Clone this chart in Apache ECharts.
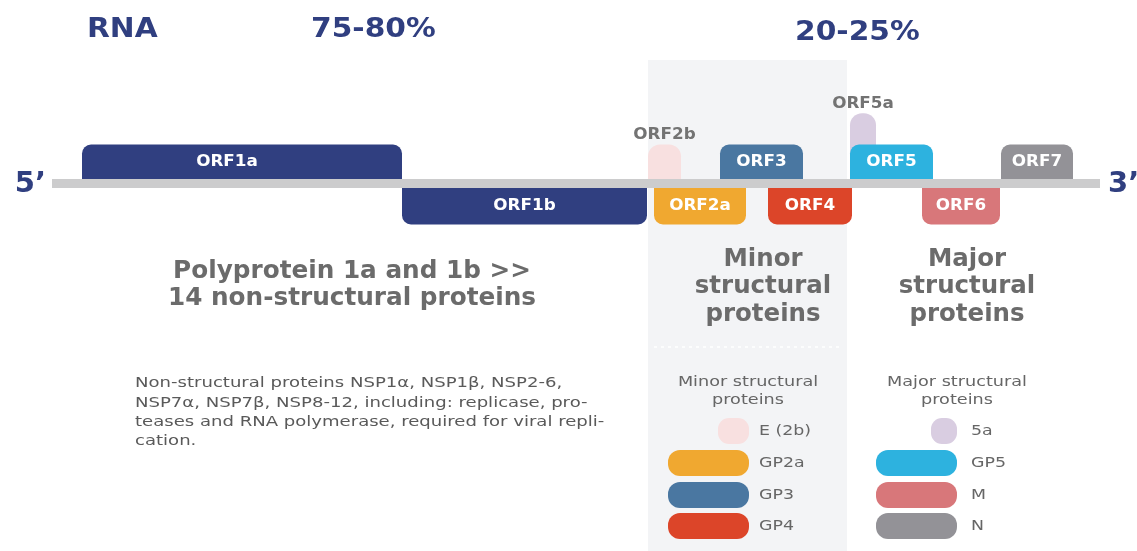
<!DOCTYPE html>
<html><head><meta charset="utf-8">
<script src="https://cdn.jsdelivr.net/npm/echarts@6/dist/echarts.min.js"></script>
<style>html,body{margin:0;padding:0;background:#fff}#c{width:1137px;height:551px}</style>
</head><body><div id="c"></div>
<script>
// ---- data (genome position units, 0 = 5' end, 1048 = 3' end) ----
const genomeLength = 1048;
const orfNames = ['ORF5a','ORF1a','ORF1b','ORF2b','ORF2a','ORF3','ORF4','ORF5','ORF6','ORF7'];
const orfStart = [798, 30, 350, 596, 602, 668, 716, 798, 870, 949];
const orfEnd   = [824, 350, 595, 629, 694, 751, 800, 881, 948, 1021];
const orfBase  = [0, 0, 0, 0, 0, 0, 0, 0, 0, 0];
const orfTop   = [1.8, 1, -1.05, 1, -1.05, 1, -1.05, 1, -1.05, 1];
const labelOutside = ['ORF5a', 'ORF2b'];
const structuralRegion = [596, 795];

const minorLegend = ['E (2b)', 'GP2a', 'GP3', 'GP4'];
const majorLegend = ['5a', 'GP5', 'M', 'N'];

// ---- styles ----
const NAVY = '#303f80';
const orfColors = {
  ORF1a: NAVY, ORF1b: NAVY, ORF2b: '#f8e0e0', ORF2a: '#f0a830', ORF3: '#4a77a1',
  ORF4: '#dc4529', ORF5a: '#d9cde1', ORF5: '#2db2df', ORF6: '#d8777a', ORF7: '#939297'
};
const labelShift = {ORF1a: -15};
const minorColors = ['#f8e0e0', '#f0a830', '#4a77a1', '#dc4529'];
const majorColors = ['#d9cde1', '#2db2df', '#d8777a', '#939297'];
const FONT = 'DejaVu Sans';
const LINE_HALF = 4.5;

const orfData = orfNames.map((n, i) => [orfStart[i], orfEnd[i], orfBase[i], orfTop[i], i]);

const chart = echarts.init(document.getElementById('c'), null, {renderer: 'canvas'});

function renderOrf(params, api) {
  const i = api.value(4);
  const name = orfNames[i];
  const p0 = api.coord([api.value(0), api.value(2)]);
  const p1 = api.coord([api.value(1), api.value(3)]);
  const x = Math.min(p0[0], p1[0]), w = Math.abs(p1[0] - p0[0]);
  const y = Math.min(p0[1], p1[1]), h = Math.abs(p1[1] - p0[1]);
  const up = api.value(3) > 0;
  let r = name === 'ORF5a' || name === 'ORF2b' ? Math.min(w / 2, 12) : 9;
  const radius = up ? [r, r, 0, 0] : [0, 0, r, r];
  const children = [{
    type: 'rect', shape: {x, y, width: w, height: h, r: radius},
    style: {fill: orfColors[name]}
  }];
  const outside = labelOutside.indexOf(name) >= 0;
  let ty;
  if (outside) ty = y - 9.5;
  else if (up) ty = (y + p0[1] - LINE_HALF) / 2;
  else ty = (p0[1] + LINE_HALF + y + h) / 2;
  children.push({
    type: 'text', z2: 10, x: x + w / 2 + (labelShift[name] || 0), y: ty, scaleX: 1.12,
    style: {
      x: 0, y: 0, text: name, textAlign: 'center', textVerticalAlign: 'middle',
      fill: outside ? '#737373' : '#ffffff', font: 'bold 15px "' + FONT + '"'
    }
  });
  return {type: 'group', children};
}

function renderBackbone(params, api) {
  const a = api.coord([api.value(0), 0]);
  const b = api.coord([api.value(1), 0]);
  return {type: 'group', children: [
    {type: 'rect', shape: {x: a[0], y: a[1] - LINE_HALF, width: b[0] - a[0], height: LINE_HALF * 2},
     style: {fill: '#cccccd'}},
    {type: 'text', style: {x: a[0] - 6, y: a[1] + 1, text: '5\u2019', textAlign: 'right', textVerticalAlign: 'middle',
      fill: NAVY, font: 'bold 29px "' + FONT + '"'}},
    {type: 'text', style: {x: b[0] + 8, y: a[1] + 1, text: '3\u2019', textAlign: 'left', textVerticalAlign: 'middle',
      fill: NAVY, font: 'bold 29px "' + FONT + '"'}}
  ]};
}

function renderRegion(params, api) {
  const a = api.coord([api.value(0), 0]);
  const b = api.coord([api.value(1), 0]);
  return {type: 'group', children: [
    {type: 'rect', shape: {x: a[0], y: 60, width: b[0] - a[0], height: 551 - 60}, style: {fill: '#f3f4f6'}},
    {type: 'line', shape: {x1: a[0] + 6, y1: 347, x2: b[0] - 6, y2: 347},
     style: {stroke: '#ffffff', lineWidth: 1.5, lineDash: [3, 4]}}
  ]};
}

const graphics = [];
function txt(x, y, text, opts, sx) {
  graphics.push({type: 'text', x, y, z: 100, scaleX: sx || 1, style: Object.assign({
    text, fill: '#6b6b6b', font: '14px "' + FONT + '"', textVerticalAlign: 'top'
  }, opts || {})});
}
txt(87, 16, 'RNA', {fill: NAVY, font: 'bold 27px "' + FONT + '"'}, 1.1);
txt(311, 16, '75-80%', {fill: NAVY, font: 'bold 27px "' + FONT + '"'}, 1.1);
txt(795, 19, '20-25%', {fill: NAVY, font: 'bold 27px "' + FONT + '"'}, 1.1);
txt(352, 258, 'Polyprotein 1a and 1b >>\n14 non-structural proteins',
  {textAlign: 'center', font: 'bold 24px "' + FONT + '"', lineHeight: 27, fill: '#6b6b6b'}, 1.03);
txt(763, 246, 'Minor\nstructural\nproteins',
  {textAlign: 'center', font: 'bold 24px "' + FONT + '"', lineHeight: 27.5, fill: '#6b6b6b'}, 1.02);
txt(967, 246, 'Major\nstructural\nproteins',
  {textAlign: 'center', font: 'bold 24px "' + FONT + '"', lineHeight: 27.5, fill: '#6b6b6b'}, 1.02);
txt(135, 374, 'Non-structural proteins NSP1\u03b1, NSP1\u03b2, NSP2-6,\nNSP7\u03b1, NSP7\u03b2, NSP8-12, including: replicase, pro-\nteases and RNA polymerase, required for viral repli-\ncation.',
  {font: '14px "' + FONT + '"', lineHeight: 19.3, fill: '#5a5a5a'}, 1.29);
txt(748, 373, 'Minor structural\nproteins', {textAlign: 'center', font: '14px "' + FONT + '"', lineHeight: 18, fill: '#666'}, 1.26);
txt(957, 373, 'Major structural\nproteins', {textAlign: 'center', font: '14px "' + FONT + '"', lineHeight: 18, fill: '#666'}, 1.26);

const legendRows = [418, 450, 482, 513];
function legendCol(names, colors, right, textX) {
  names.forEach((n, i) => {
    const small = i === 0;
    const w = small ? (right === 749 ? 31 : 26) : 81;
    graphics.push({type: 'rect', z: 100, shape: {x: right - w, y: legendRows[i], width: w, height: 26, r: small ? 11 : 12},
      style: {fill: colors[i]}});
    txt(textX, legendRows[i] + 13, n, {textVerticalAlign: 'middle', font: '14px "' + FONT + '"', fill: '#666'}, 1.24);
  });
}
legendCol(minorLegend, minorColors, 749, 759);
legendCol(majorLegend, majorColors, 957, 971);

chart.setOption({
  animation: false,
  grid: {left: 52, right: 37, top: 105.5, bottom: 289.5},
  xAxis: {type: 'value', min: 0, max: genomeLength, show: false},
  yAxis: {type: 'value', min: -2, max: 2, show: false},
  series: [
    {type: 'custom', renderItem: renderRegion, data: [structuralRegion], z: 1, silent: true},
    {type: 'custom', renderItem: renderOrf, data: orfData, z: 2, encode: {x: [0, 1], y: [2, 3]}},
    {type: 'custom', renderItem: renderBackbone, data: [[0, genomeLength]], z: 3, encode: {x: [0, 1]}}
  ],
  graphic: graphics
});
</script></body></html>
